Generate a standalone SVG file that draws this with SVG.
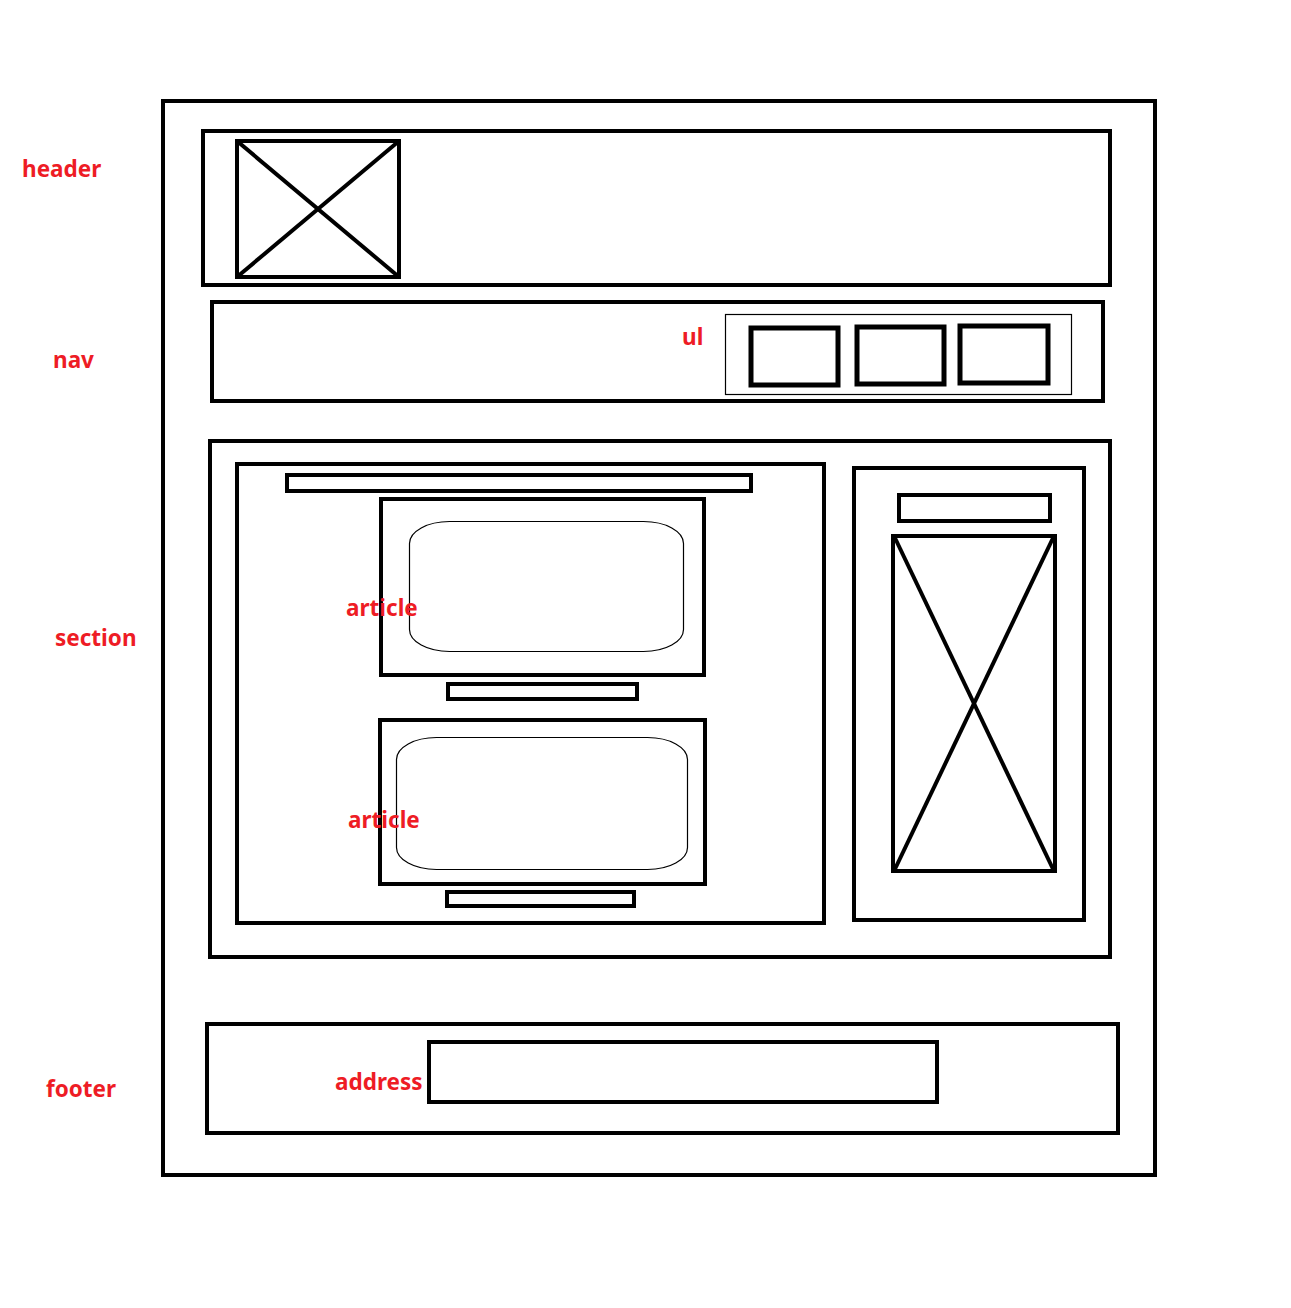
<svg xmlns="http://www.w3.org/2000/svg" width="1291" height="1308" viewBox="0 0 1291 1308">
<style>
.b{fill:none;stroke:#000;stroke-width:4}
.t{fill:none;stroke:#000;stroke-width:1.2}
.l{fill:#ee1c25;font-family:"Noto Sans","Liberation Sans",sans-serif;font-weight:bold;font-size:22.5px}
</style>
<rect width="1291" height="1308" fill="#fff"/>
<g id="page"><rect class="b" x="163" y="101" width="992" height="1074"/></g>
<g id="header">
<rect class="b" x="203" y="131" width="907" height="154"/>
<rect class="b" x="237" y="141" width="162" height="136"/>
<line class="b" x1="237" y1="141" x2="399" y2="277"/>
<line class="b" x1="399" y1="141" x2="237" y2="277"/>
<text class="l" x="22" y="177">header</text>
</g>
<g id="nav">
<rect class="b" x="212" y="302" width="891" height="99"/>
<rect class="t" x="725.5" y="314.5" width="346" height="80"/>
<rect class="b" x="751" y="328" width="87" height="57" style="stroke-width:5"/>
<rect class="b" x="857" y="327" width="87" height="57" style="stroke-width:5"/>
<rect class="b" x="960" y="326" width="88" height="57" style="stroke-width:5"/>
<text class="l" x="53" y="368">nav</text>
<text class="l" x="682" y="345">ul</text>
</g>
<g id="section">
<rect class="b" x="210" y="441" width="900" height="516"/>
<rect class="b" x="237" y="464" width="587" height="459"/>
<rect class="b" x="287" y="475" width="464" height="16"/>
<g id="article1">
<rect class="b" x="381" y="499" width="323" height="176"/>
<rect class="t" x="409.5" y="521.5" width="274" height="130" rx="40" ry="22"/>
<rect class="b" x="448" y="684" width="189" height="15"/>
<text class="l" x="346" y="616">article</text>
</g>
<g id="article2">
<rect class="b" x="380" y="720" width="325" height="164"/>
<rect class="t" x="396.5" y="737.5" width="291" height="132" rx="40" ry="22"/>
<rect class="b" x="447" y="892" width="187" height="14"/>
<text class="l" x="348" y="828">article</text>
</g>
<g id="aside">
<rect class="b" x="854" y="468" width="230" height="452"/>
<rect class="b" x="899" y="495" width="151" height="26"/>
<rect class="b" x="893" y="536" width="162" height="335"/>
<line class="b" x1="895" y1="538" x2="1053" y2="869"/>
<line class="b" x1="1053" y1="538" x2="895" y2="869"/>
</g>
<text class="l" x="55" y="646">section</text>
</g>
<g id="footer">
<rect class="b" x="207" y="1024" width="911" height="109"/>
<rect class="b" x="429" y="1042" width="508" height="60"/>
<text class="l" x="46" y="1097">footer</text>
<text class="l" x="335" y="1090">address</text>
</g>
<g id="connectors"></g>
</svg>
